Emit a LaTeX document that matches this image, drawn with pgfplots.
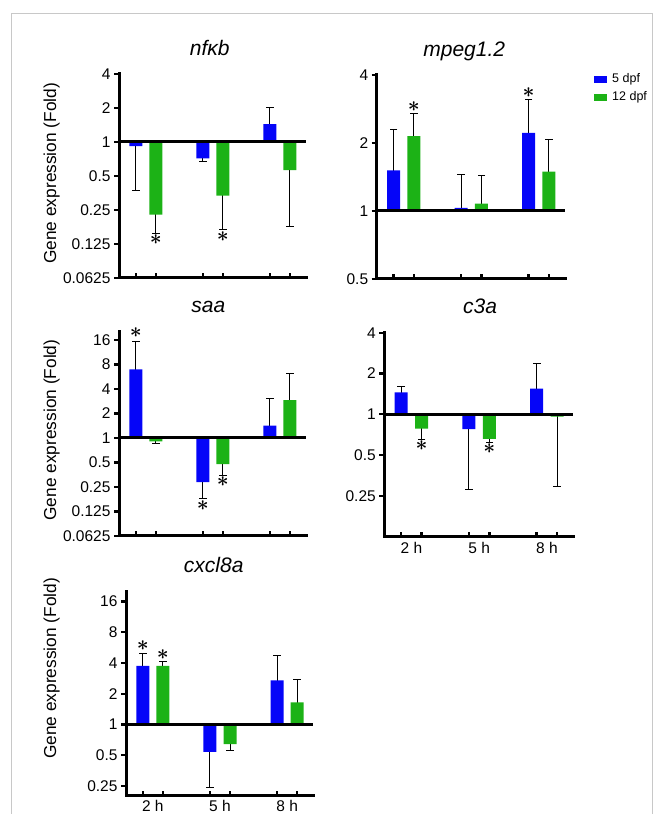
\documentclass[border=0pt]{standalone}
\usepackage{fontspec}
\setmainfont{Liberation Sans}
\usepackage{pgfplots}
\pgfplotsset{compat=1.18}
\definecolor{bluefive}{RGB}{5,5,248}
\definecolor{greentwelve}{RGB}{28,178,22}
\definecolor{framegray}{RGB}{200,200,200}
\tikzset{myStar/.style={font=\fontsize{22}{22}\selectfont\boldmath, inner sep=0pt}}

\begin{document}
\begin{tikzpicture}[x=1pt,y=1pt]
\useasboundingbox (0,0) rectangle (654,814);
\draw[framegray, line width=1pt] (11,-3) -- (11,800) -- (652,800) -- (652,-3);

% ---------------- nfkb
\begin{axis}[at={(119pt,536pt)}, anchor=south west, width=187pt,
  scale only axis, height=204pt, clip=false,
  ymode=log, log basis y=2, xmin=0.6, xmax=3.39,
  axis x line=bottom, axis y line=left,
  axis line style={-, line width=3pt, line cap=rect},
  xtick={0.85,1.15,1.85,2.15,2.85,3.15}, xticklabels={,,,,,},
  xtick align=inside, ytick align=outside, major tick length=5pt,
  x tick style={line width=2.5pt,black}, y tick style={line width=2.2pt,black},
  tick label style={font=\fontsize{15.5}{18}\selectfont},
  title style={font=\fontsize{21}{24}\selectfont\itshape, at={(0.5,1)}, anchor=base, yshift=12.3pt, xshift=-2.8pt},
  ylabel style={font=\fontsize{17.3}{20}\selectfont, anchor=center, at={(axis description cs:-0.36,0.513)}},
  ymin=0.0625, ymax=4,
  ytick={0.0625,0.125,0.25,0.5,1,2,4},
  yticklabels={0.0625,0.125,0.25,0.5,1,2,4},
  title={nfκb},
  ylabel={Gene expression (Fold)}]
\addplot[ycomb, black, line width=1pt, mark=-, mark size=3.8pt, mark options={line width=1pt}, forget plot] coordinates {(0.85,0.37) (1.85,0.673) (2.85,2.02) (1.15,0.155) (2.15,0.167) (3.15,0.18)};
\addplot[ybar, bar width=13pt, bar shift=0pt, fill=bluefive, draw=none] coordinates {(0.85,0.92) (1.85,0.716) (2.85,1.436)};
\addplot[ybar, bar width=13pt, bar shift=0pt, fill=greentwelve, draw=none] coordinates {(1.15,0.227) (2.15,0.335) (3.15,0.563)};
\addplot[black, line width=3pt, forget plot, mark=none] coordinates {(0.6,1) (3.39,1)};
\node[myStar, yshift=-6.5pt] at (axis cs:1.15,0.155) {$\ast$};
\node[myStar, yshift=-6.7pt] at (axis cs:2.15,0.167) {$\ast$};
\end{axis}

% ---------------- mpeg1.2
\begin{axis}[at={(376.7pt,535.3pt)}, anchor=south west, width=188.3pt,
  scale only axis, height=204pt, clip=false,
  ymode=log, log basis y=2, xmin=0.6, xmax=3.39,
  axis x line=bottom, axis y line=left,
  axis line style={-, line width=3pt, line cap=rect},
  xtick={0.85,1.15,1.85,2.15,2.85,3.15}, xticklabels={,,,,,},
  xtick align=inside, ytick align=outside, major tick length=5pt,
  x tick style={line width=2.5pt,black}, y tick style={line width=2.2pt,black},
  tick label style={font=\fontsize{15.5}{18}\selectfont},
  title style={font=\fontsize{21}{24}\selectfont\itshape, at={(0.5,1)}, anchor=base, yshift=12.3pt, xshift=-6.6pt},
  ymin=0.5, ymax=4,
  ytick={0.5,1,2,4},
  yticklabels={0.5,1,2,4},
  title={mpeg1.2},
  legend cell align=left,
  legend style={at={(axis description cs:1.155,0.995)}, anchor=north west, yshift=4pt, draw=none, fill=none,
    font=\fontsize{12.5}{14}\selectfont, inner sep=0pt, row sep=3.4pt, column sep=3.5pt},
  legend image code/.code={\fill[#1] (0pt,-3.4pt) rectangle (12.3pt,3.4pt);}]
\addplot[ycomb, black, line width=1pt, mark=-, mark size=3.8pt, mark options={line width=1pt}, forget plot] coordinates {(0.85,2.29) (1.85,1.45) (2.85,3.11) (1.15,2.69) (2.15,1.43) (3.15,2.07)};
\addplot[ybar, bar width=13pt, bar shift=0pt, fill=bluefive, draw=none] coordinates {(0.85,1.51) (1.85,1.03) (2.85,2.21)};
\addlegendentry{5 dpf}
\addplot[ybar, bar width=13pt, bar shift=0pt, fill=greentwelve, draw=none] coordinates {(1.15,2.14) (2.15,1.074) (3.15,1.49)};
\addlegendentry{12 dpf}
\addplot[black, line width=3pt, forget plot, mark=none] coordinates {(0.6,1) (3.39,1)};
\node[myStar, yshift=7.3pt] at (axis cs:1.15,2.69) {$\ast$};
\node[myStar, yshift=7pt] at (axis cs:2.85,3.11) {$\ast$};
\end{axis}

% ---------------- saa
\begin{axis}[at={(119pt,278pt)}, anchor=south west, width=187pt,
  scale only axis, height=204pt, clip=false,
  ymode=log, log basis y=2, xmin=0.6, xmax=3.39,
  axis x line=bottom, axis y line=left,
  axis line style={-, line width=3pt, line cap=rect},
  xtick={0.85,1.15,1.85,2.15,2.85,3.15}, xticklabels={,,,,,},
  xtick align=inside, ytick align=outside, major tick length=5pt,
  x tick style={line width=2.5pt,black}, y tick style={line width=2.2pt,black},
  tick label style={font=\fontsize{15.5}{18}\selectfont},
  title style={font=\fontsize{21}{24}\selectfont\itshape, at={(0.5,1)}, anchor=base, yshift=13pt, xshift=-4.2pt},
  ylabel style={font=\fontsize{17.3}{20}\selectfont, anchor=center, at={(axis description cs:-0.36,0.519)}},
  ymin=0.0625, ymax=20,
  ytick={0.0625,0.125,0.25,0.5,1,2,4,8,16},
  yticklabels={0.0625,0.125,0.25,0.5,1,2,4,8,16},
  title={saa},
  ylabel={Gene expression (Fold)}]
\addplot[ycomb, black, line width=1pt, mark=-, mark size=3.8pt, mark options={line width=1pt}, forget plot] coordinates {(0.85,15.5) (1.85,0.179) (2.85,3.08) (1.15,0.85) (2.15,0.343) (3.15,6.15)};
\addplot[ybar, bar width=13pt, bar shift=0pt, fill=bluefive, draw=none] coordinates {(0.85,6.95) (1.85,0.287) (2.85,1.42)};
\addplot[ybar, bar width=13pt, bar shift=0pt, fill=greentwelve, draw=none] coordinates {(1.15,0.91) (2.15,0.478) (3.15,2.91)};
\addplot[black, line width=3pt, forget plot, mark=none] coordinates {(0.6,1) (3.39,1)};
\node[myStar, yshift=8.4pt] at (axis cs:0.85,15.5) {$\ast$};
\node[myStar, yshift=-6.5pt] at (axis cs:1.85,0.179) {$\ast$};
\node[myStar, yshift=-6.3pt] at (axis cs:2.15,0.343) {$\ast$};
\end{axis}

% ---------------- c3a
\begin{axis}[at={(384.3pt,277.3pt)}, anchor=south west, width=189pt,
  scale only axis, height=204pt, clip=false,
  ymode=log, log basis y=2, xmin=0.6, xmax=3.39,
  axis x line=bottom, axis y line=left,
  axis line style={-, line width=3pt, line cap=rect},
  xtick={0.85,1.15,1.85,2.15,2.85,3.15}, xticklabels={,,,,,},
  extra x ticks={1,2,3}, extra x tick labels={2 h,5 h,8 h},
  extra x tick style={major tick length=0pt, tick label style={yshift=-2.5pt}},
  xtick align=inside, ytick align=outside, major tick length=5pt,
  x tick style={line width=2.5pt,black}, y tick style={line width=2.2pt,black},
  tick label style={font=\fontsize{15.5}{18}\selectfont},
  title style={font=\fontsize{21}{24}\selectfont\itshape, at={(0.5,1)}, anchor=base, yshift=13.4pt, xshift=1.2pt},
  ymin=0.125, ymax=4,
  ytick={0.25,0.5,1,2,4},
  yticklabels={0.25,0.5,1,2,4},
  title={c3a}]
\addplot[ycomb, black, line width=1pt, mark=-, mark size=3.8pt, mark options={line width=1pt}, forget plot] coordinates {(0.85,1.61) (1.85,0.278) (2.85,2.38) (1.15,0.648) (2.15,0.62) (3.15,0.293)};
\addplot[ybar, bar width=13pt, bar shift=0pt, fill=bluefive, draw=none] coordinates {(0.85,1.45) (1.85,0.776) (2.85,1.55)};
\addplot[ybar, bar width=13pt, bar shift=0pt, fill=greentwelve, draw=none] coordinates {(1.15,0.785) (2.15,0.66) (3.15,0.96)};
\addplot[black, line width=3pt, forget plot, mark=none] coordinates {(0.6,1) (3.39,1)};
\node[myStar, yshift=-6pt] at (axis cs:1.15,0.648) {$\ast$};
\node[myStar, yshift=-6.3pt] at (axis cs:2.15,0.62) {$\ast$};
\end{axis}

% ---------------- cxcl8a
\begin{axis}[at={(126pt,18.3pt)}, anchor=south west, width=187.3pt,
  scale only axis, height=204pt, clip=false,
  ymode=log, log basis y=2, xmin=0.6, xmax=3.39,
  axis x line=bottom, axis y line=left,
  axis line style={-, line width=3pt, line cap=rect},
  xtick={0.85,1.15,1.85,2.15,2.85,3.15}, xticklabels={,,,,,},
  extra x ticks={1,2,3}, extra x tick labels={2 h,5 h,8 h},
  extra x tick style={major tick length=0pt, tick label style={yshift=-1.5pt}},
  xtick align=inside, ytick align=outside, major tick length=5pt,
  x tick style={line width=2.5pt,black}, y tick style={line width=2.2pt,black},
  tick label style={font=\fontsize{15.5}{18}\selectfont},
  title style={font=\fontsize{21}{24}\selectfont\itshape, at={(0.5,1)}, anchor=base, yshift=13.4pt, xshift=-5.9pt},
  ylabel style={font=\fontsize{17.3}{20}\selectfont, anchor=center, at={(axis description cs:-0.397,0.624)}},
  ymin=0.2, ymax=20,
  ytick={0.25,0.5,1,2,4,8,16},
  yticklabels={0.25,0.5,1,2,4,8,16},
  title={cxcl8a},
  ylabel={Gene expression (Fold)}]
\addplot[ycomb, black, line width=1pt, mark=-, mark size=3.8pt, mark options={line width=1pt}, forget plot] coordinates {(0.85,4.98) (1.85,0.239) (2.85,4.69) (1.15,4.18) (2.15,0.56) (3.15,2.74)};
\addplot[ybar, bar width=13pt, bar shift=0pt, fill=bluefive, draw=none] coordinates {(0.85,3.74) (1.85,0.539) (2.85,2.70)};
\addplot[ybar, bar width=13pt, bar shift=0pt, fill=greentwelve, draw=none] coordinates {(1.15,3.74) (2.15,0.641) (3.15,1.64)};
\addplot[black, line width=3pt, forget plot, mark=none] coordinates {(0.6,1) (3.39,1)};
\node[myStar, yshift=7.6pt] at (axis cs:0.85,4.98) {$\ast$};
\node[myStar, yshift=6pt] at (axis cs:1.15,4.18) {$\ast$};
\end{axis}
\end{tikzpicture}
\end{document}
